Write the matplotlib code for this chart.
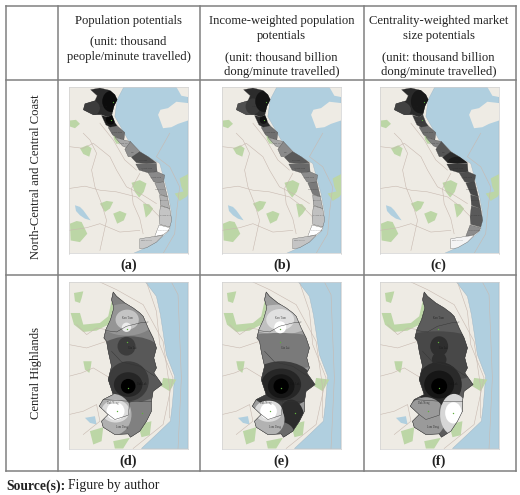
import matplotlib
matplotlib.use('Agg')
import matplotlib.pyplot as plt
from matplotlib.patches import Polygon, Ellipse

plt.rcParams['font.family'] = ['Liberation Serif', 'DejaVu Serif']

# table text
col_heads = [
    ['Population potentials', '(unit: thousand', 'people/minute travelled)'],
    ['Income-weighted population', 'potentials', '(unit: thousand billion', 'dong/minute travelled)'],
    ['Centrality-weighted market', 'size potentials', '(unit: thousand billion', 'dong/minute travelled)'],
]
head_y = [[20.7, 41.7, 57.3], [20.7, 35.7, 57.3, 72.3], [20.7, 35.7, 57.3, 72.3]]
col_x = [128.5, 281.7, 438.7]
row_names = ['North-Central and Central Coast', 'Central Highlands']
panel_top = ['(a)', '(b)', '(c)']
panel_bot = ['(d)', '(e)', '(f)']

# background of the coast maps, in map units
coast_sea = [(372, 262), (352, 300), (345, 350), (385, 420), (430, 462), (480, 490), (505, 580), (516, 640),
             (510, 690), (470, 725), (425, 748), (400, 759), (565, 759), (565, 262)]
coast_islands = [[(475, 345), (482, 330), (505, 325), (530, 306), (565, 310), (565, 362), (535, 372), (515, 382),
                  (490, 385)],
                 [(530, 262), (565, 262), (565, 292), (545, 288)],
                 [(207, 738), (225, 735), (245, 748), (245, 759), (207, 759)]]
coast_green = [[(210, 362), (228, 360), (240, 372), (225, 385), (210, 380)],
               [(340, 400), (352, 412), (365, 428), (350, 432), (342, 418)],
               [(240, 445), (262, 436), (275, 445), (268, 470), (250, 462)],
               [(540, 535), (565, 522), (590, 530), (585, 560), (570, 568), (555, 582), (545, 560)],
               [(525, 580), (550, 574), (575, 570), (560, 590), (540, 602)],
               [(210, 670), (230, 662), (245, 665), (262, 700), (240, 725), (212, 720)],
               [(340, 640), (360, 632), (380, 640), (372, 660), (352, 670)],
               [(395, 548), (420, 540), (440, 550), (432, 575), (418, 592), (405, 575)],
               [(430, 610), (448, 612), (460, 625), (450, 640), (438, 652)],
               [(300, 610), (320, 602), (340, 605), (330, 625), (315, 635)]]
coast_lake = [(225, 615), (240, 620), (250, 630), (272, 660), (255, 655), (240, 645), (228, 632)]
coast_roads = [[(207, 440), (250, 445), (280, 430), (330, 470), (350, 510), (380, 560), (430, 585), (470, 610)],
               [(207, 565), (255, 558), (300, 570), (350, 575), (410, 590), (450, 620), (480, 650)],
               [(250, 400), (270, 420), (290, 460), (275, 510), (285, 560), (305, 610), (320, 660), (300, 750)],
               [(420, 520), (395, 565), (400, 610), (420, 655), (430, 700)],
               [(207, 690), (260, 682), (300, 670), (360, 695), (420, 690)],
               [(300, 370), (340, 420), (375, 480), (410, 510)],
               [(510, 400), (470, 470), (510, 500), (540, 560), (530, 640), (525, 700), (490, 759)]]

high_sea = [(437, 112), (470, 155), (482, 210), (490, 262), (500, 330), (525, 395), (518, 480), (512, 530),
            (470, 570), (425, 612), (565, 612), (565, 112)]
high_green = [[(212, 205), (240, 205), (250, 240), (300, 235), (325, 215), (335, 170), (345, 205), (325, 240),
               (290, 258), (250, 262), (222, 240)],
              [(222, 145), (250, 140), (245, 160), (240, 175), (225, 170)],
              [(250, 350), (275, 350), (272, 370), (268, 385), (255, 375)],
              [(270, 560), (310, 548), (305, 590), (280, 600)],
              [(415, 540), (455, 530), (450, 572), (425, 578)],
              [(490, 400), (530, 405), (510, 440), (485, 425)],
              [(340, 590), (390, 580), (370, 612), (345, 612)]]
high_lake = [(255, 520), (285, 515), (290, 540), (270, 535)]
high_roads = [[(207, 300), (260, 310), (320, 290)],
              [(207, 395), (245, 385), (280, 370), (330, 400)],
              [(207, 510), (250, 500), (290, 480), (300, 530), (250, 570)],
              [(230, 240), (260, 270), (290, 250), (320, 255)],
              [(300, 112), (350, 135), (430, 180), (490, 290), (510, 430), (510, 520)],
              [(440, 112), (470, 200), (480, 300), (520, 400), (490, 540), (400, 612)],
              [(515, 112), (535, 150), (545, 400), (535, 612)]]

# north-central and central coast provinces
coast_provinces = [
    [(272, 270), (300, 265), (330, 272), (345, 285), (352, 300), (342, 320), (336, 345), (325, 352), (305, 345),
     (280, 345), (250, 330), (255, 312), (285, 303), (292, 288)],
    [(305, 347), (325, 352), (336, 345), (345, 368), (352, 378), (335, 385), (318, 375)],
    [(325, 383), (352, 378), (375, 398), (372, 420), (355, 415), (338, 405)],
    [(345, 412), (372, 420), (392, 425), (385, 445), (368, 438)],
    [(375, 448), (392, 425), (420, 455), (415, 470), (385, 470)],
    [(395, 472), (420, 455), (445, 470), (470, 488), (440, 490), (410, 488)],
    [(408, 492), (440, 490), (470, 490), (472, 515), (445, 518), (418, 510)],
    [(445, 518), (472, 515), (495, 525), (490, 550), (462, 545)],
    [(465, 548), (492, 545), (503, 590), (480, 582)],
    [(480, 584), (503, 590), (510, 625), (482, 615)],
    [(482, 617), (510, 625), (516, 660), (510, 680), (480, 672), (478, 650)],
    [(478, 674), (510, 682), (505, 692), (490, 703), (465, 708)],
    [(420, 745), (420, 715), (465, 708), (490, 705), (470, 725), (440, 742)],
]
coast_labels = ['Nghe An', 'Ha Tinh', 'Quang Binh', 'Quang Tri', 'Hue', 'Da Nang', 'Quang Nam', 'Quang Ngai',
                'Binh Dinh', 'Phu Yen', 'Khanh Hoa', 'Ninh Thuan', 'Binh Thuan']
coast_label_x = [310, 328, 350, 370, 400, 430, 440, 468, 480, 492, 495, 490, 440]
coast_label_y = [320, 368, 398, 430, 458, 480, 505, 532, 568, 600, 645, 690, 720]
coast_shades = [
    ['#2a2a2a', '#1c1c1c', '#707070', '#a8a8a8', '#8e8e8e', '#505050', '#686868', '#8a8a8a', '#a0a0a0', '#b2b2b2',
     '#c4c4c4', '#ffffff', '#c8c8c8'],
    ['#2c2c2c', '#2a2a2a', '#707070', '#a5a5a5', '#8a8a8a', '#5a5a5a', '#686868', '#8c8c8c', '#7a7a7a', '#b0b0b0',
     '#c0c0c0', '#ffffff', '#c4c4c4'],
    ['#2a2a2a', '#3c3c3c', '#6e6e6e', '#808080', '#555555', '#2c2c2c', '#3c3c3c', '#4e4e4e', '#484848', '#505050',
     '#5a5a5a', '#8c8c8c', '#f4f4f4'],
]
# province index, cx, cy, rx, ry, grey for the contour rings in the coast maps
coast_rings = [
    [(0, 255, 325, 45, 30, '#3c3c3c'), (0, 335, 305, 28, 32, '#0c0c0c'), (1, 332, 360, 14, 14, '#080808')],
    [(0, 250, 330, 50, 30, '#505050'), (0, 300, 320, 22, 24, '#3a3a3a'), (0, 335, 305, 28, 32, '#141414'),
     (1, 332, 360, 12, 12, '#101010')],
    [(0, 250, 330, 50, 30, '#424242'), (0, 330, 305, 30, 36, '#181818'), (5, 440, 488, 30, 18, '#1c1c1c')],
]

# central highlands outline and inner provinces
high_outline = [(340, 142), (350, 155), (375, 175), (400, 190), (420, 205), (430, 215), (445, 250), (460, 280),
                (470, 310), (462, 340), (470, 370), (462, 385), (487, 420), (460, 440), (455, 470), (455, 500),
                (440, 530), (420, 560), (392, 578), (385, 568), (345, 570), (310, 548), (305, 530), (325, 510),
                (298, 485), (310, 465), (340, 450), (325, 405), (335, 365), (325, 320), (320, 290), (312, 280),
                (318, 255), (332, 225), (342, 190), (335, 165)]
high_borders = [[(318, 258), (350, 262), (380, 245), (420, 235), (445, 232)],
                [(335, 320), (365, 352), (420, 365), (465, 395)],
                [(310, 465), (385, 470), (455, 470)],
                [(325, 510), (345, 525), (385, 512), (390, 470)]]
high_labels = ['Kon Tum', 'Gia Lai', 'Dak Lak', 'Dak Nong', 'Lam Dong']
high_label_x = [382, 397, 425, 338, 367]
high_label_y = [221, 310, 418, 476, 546]
high_dots = [(382, 252), (381, 291), (385, 429), (350, 499), (428, 505)]
high_base = ['#808080', '#9c9c9c', '#5c5c5c']
# cx, cy, rx, ry, grey painted in order inside the outline of every map
high_rings = [
    [(380, 225, 85, 48, '#959595'), (390, 375, 130, 100, '#585858'), (380, 305, 27, 28, '#3c3c3c'),
     (382, 225, 35, 30, '#c4c4c4'), (380, 248, 14, 14, '#ececec'), (410, 530, 52, 60, '#808080'),
     (385, 410, 62, 60, '#3c3c3c'), (385, 420, 43, 37, '#262626'), (385, 425, 22, 22, '#000000'),
     (340, 510, 55, 62, '#b0b0b0'), (347, 500, 42, 34, '#dcdcdc'), (347, 500, 27, 27, '#ffffff')],
    [(380, 225, 100, 45, '#c0c0c0'), (380, 320, 180, 55, '#7a7a7a'), (382, 225, 42, 32, '#e0e0e0'),
     (382, 248, 18, 18, '#ffffff'), (385, 420, 100, 70, '#3e3e3e'), (385, 420, 60, 48, '#262626'),
     (385, 425, 40, 36, '#161616'), (385, 425, 23, 23, '#000000'), (415, 525, 40, 60, '#2c2c2c'),
     (360, 560, 62, 32, '#6a6a6a'), (345, 525, 50, 50, '#b2b2b2'), (347, 500, 42, 32, '#dcdcdc'),
     (347, 500, 25, 25, '#ffffff')],
    [(380, 335, 170, 75, '#484848'), (385, 305, 27, 30, '#2e2e2e'), (385, 345, 22, 22, '#2e2e2e'),
     (385, 420, 68, 68, '#2a2a2a'), (385, 420, 45, 42, '#161616'), (385, 425, 24, 24, '#000000'),
     (345, 520, 60, 62, '#9a9a9a'), (430, 510, 42, 62, '#d6d6d6'), (428, 505, 25, 32, '#ffffff')],
]

LAND = '#eeebe4'
SEA = '#b0cfdf'
GREEN = '#bcd6a6'


def draw_background(ax, sea, islands, greens, lake, roads):
    ax.set_facecolor(LAND)
    ax.add_patch(Polygon(sea, fc=SEA, ec='#9db4c4', lw=0.3, zorder=0.2))
    for isl in islands:
        ax.add_patch(Polygon(isl, fc=LAND, ec='none', zorder=0.3))
    for g in greens:
        ax.add_patch(Polygon(g, fc=GREEN, ec='none', zorder=0.4))
    ax.add_patch(Polygon(lake, fc=SEA, ec='none', zorder=0.4))
    for r in roads:
        ax.plot([p[0] for p in r], [p[1] for p in r], color='#c8b9b0', lw=0.4, zorder=0.5)


def map_axes(fig, left, top):
    ax = fig.add_axes([left / 520, 1 - (top + 166.5) / 495, 119 / 520, 166.5 / 495])
    ax.set_xticks([])
    ax.set_yticks([])
    for s in ax.spines.values():
        s.set_color('#d0d0d0')
        s.set_linewidth(0.5)
    return ax


fig = plt.figure(figsize=(5.2, 4.95), dpi=100)

# table grid and text live in one axes in pixel units
tab = fig.add_axes([0, 0, 1, 1])
tab.set_xlim(0, 520)
tab.set_ylim(495, 0)
tab.axis('off')
for x in [6, 58, 200, 364, 515.5]:
    tab.plot([x, x], [6, 471], color='#808080', lw=1.1)
for y in [6, 80, 275, 471]:
    tab.plot([6, 515.5], [y, y], color='#808080', lw=1.1)

for lines, ys, x in zip(col_heads, head_y, col_x):
    for line, y in zip(lines, ys):
        tab.text(x, y, line, ha='center', va='center', fontsize=9.05, color='#222222')
tab.text(36, 177, row_names[0], rotation=90, ha='center', va='center', fontsize=9.05, color='#222222')
tab.text(36, 373, row_names[1], rotation=90, ha='center', va='center', fontsize=9.05, color='#222222')
for x, a, d in zip(col_x, panel_top, panel_bot):
    tab.text(x, 265, a, ha='center', va='center', fontsize=10.3, fontweight='bold', color='#222222')
    tab.text(x, 461, d, ha='center', va='center', fontsize=10.3, fontweight='bold', color='#222222')
tab.text(6, 486, 'Source(s):', ha='left', va='center', fontsize=9.8, fontweight='bold', color='#222222')
tab.text(68, 486, 'Figure by author', ha='left', va='center', fontsize=9.8, color='#222222')

map_left = [69, 222, 380]

for i, left in enumerate(map_left):
    ax = map_axes(fig, left, 87)
    draw_background(ax, coast_sea, coast_islands, coast_green, coast_lake, coast_roads)
    prov_patches = []
    for prov, shade in zip(coast_provinces, coast_shades[i]):
        prov_patches.append(ax.add_patch(Polygon(prov, fc=shade, ec='#404040', lw=0.2)))
    for idx, cx, cy, rx, ry, g in coast_rings[i]:
        e = ax.add_patch(Ellipse((cx, cy), 2 * rx, 2 * ry, fc=g, ec='none'))
        e.set_clip_path(prov_patches[idx])
    for name, x, y in zip(coast_labels, coast_label_x, coast_label_y):
        ax.text(x, y, name, fontsize=1.6, ha='center', va='center', color='#222222', alpha=0.5)
    ax.plot([340, 332], [307, 360], ls='none', marker='o', ms=0.9, color='#5fae3c', mew=0)
    ax.set_xlim(207, 565)
    ax.set_ylim(759, 262)

    ax = map_axes(fig, left, 282)
    draw_background(ax, high_sea, [], high_green, high_lake, high_roads)
    outline = ax.add_patch(Polygon(high_outline, fc=high_base[i], ec='#3a3a3a', lw=0.3))
    for cx, cy, rx, ry, g in high_rings[i]:
        e = ax.add_patch(Ellipse((cx, cy), 2 * rx, 2 * ry, fc=g, ec='none'))
        e.set_clip_path(outline)
    for b in high_borders:
        ax.plot([p[0] for p in b], [p[1] for p in b], color='#333333', lw=0.3)
    ax.add_patch(Polygon(high_outline, fc='none', ec='#3a3a3a', lw=0.3))
    for name, x, y in zip(high_labels, high_label_x, high_label_y):
        ax.text(x, y, name, fontsize=2.0, ha='center', va='center', color='#111111', alpha=0.7)
    ax.plot([p[0] for p in high_dots], [p[1] for p in high_dots], ls='none', marker='o', ms=1.0,
            color='#5fae3c', mew=0)
    ax.set_xlim(207, 565)
    ax.set_ylim(612, 112)

fig.savefig('out.png', dpi=100)
